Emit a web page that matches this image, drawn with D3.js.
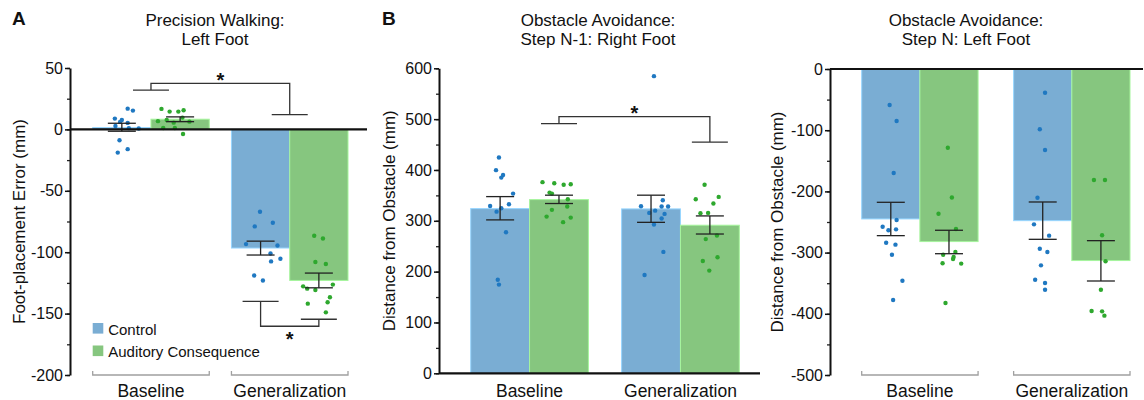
<!DOCTYPE html>
<html>
<head>
<meta charset="utf-8">
<script src="https://cdn.jsdelivr.net/npm/d3@7"></script>
<style>
  body { margin: 0; background: #fff; }
  text { font-family: "Liberation Sans", Arial, sans-serif; fill: #111; }
</style>
</head>
<body>
<svg id="chart" width="1144" height="400"></svg>
<script>
var groups = ["Baseline", "Generalization"];
var seriesNames = ["Control", "Auditory Consequence"];
var barColors = ["#7aadd3", "#86c67f"];
var dotColors = ["#1f78c1", "#2ea82e"];

// ---- Panel A: precision walking, left foot (mm) ----
var aCtrlMean = [1.5, -96.6];
var aAudMean = [8.3, -123];
var aCtrlErr = [[-1.5, 5], [-102.3, -91]];
var aAudErr = [[6.3, 10.2], [-129, -117]];
var aCtrlBase = [16.9, 15.3, 8.8, 7.7, 6.1, 5.3, 2.8, 1, 0.7, -8.8, -16.1, -18.9];
var aCtrlBaseJit = [0.10, 0.19, -0.12, 0, -0.03, 0.10, -0.11, 0.12, 0.29, -0.04, 0.10, -0.07];
var aAudBase = [16.7, 14.5, 14.5, 15.6, 6.7, 7.7, 5.5, 9.6, 6.3, 1.2, 1.2, -3.7];
var aAudBaseJit = [-0.32, -0.18, -0.03, 0.06, -0.38, -0.23, -0.11, 0.04, 0.16, -0.29, -0.09, 0.05];
var aCtrlGen = [-67, -79, -76, -93.4, -94.5, -101, -105.3, -107.5, -119, -123];
var aCtrlGenJit = [-0.01, -0.10, 0.21, -0.25, 0.29, 0.17, 0.34, 0.18, -0.11, 0.04];
var aAudGen = [-86.6, -88.8, -108, -109.6, -127.8, -129.7, -130.8, -126.4, -136.7, -141.9, -140.8, -149];
var aAudGenJit = [-0.08, 0.07, -0.06, 0.12, -0.27, -0.20, -0.06, 0.24, 0.19, -0.19, 0.15, 0.12];

// ---- Panel B: obstacle avoidance, step N-1 right foot (mm) ----
var bCtrlMean = [324, 323.4];
var bAudMean = [341.7, 291.3];
var bCtrlErr = [[301.8, 347.6], [297, 350.4]];
var bAudErr = [[334, 350.4], [274, 309.6]];
var bCtrlBase = [424.4, 399.6, 390, 385, 353.5, 329, 332.7, 324.8, 318, 277.5, 184, 174.5];
var bCtrlBaseJit = [-0.02, -0.07, 0.05, 0.02, 0.22, -0.17, 0.15, 0.02, -0.06, 0.10, -0.04, -0.02];
var bAudBase = [376, 374, 371, 372, 355.5, 353.5, 342.5, 328, 321.5, 308.3, 306.3, 297.3];
var bAudBaseJit = [-0.28, -0.08, 0.08, 0.20, -0.16, -0.12, 0.15, 0.14, -0.12, -0.21, 0.20, 0.07];
var bCtrlGen = [584.6, 328.7, 315.5, 320, 328, 328, 340.5, 313.6, 304.5, 292.5, 238.8, 193.5];
var bCtrlGenJit = [0.05, -0.17, -0.03, 0.07, 0.18, 0.29, 0.20, 0.23, 0.18, 0.05, 0.21, -0.11];
var bAudGen = [371, 347, 342.5, 334, 315, 315.5, 264, 271, 221, 228.3, 202];
var bAudGenJit = [-0.09, 0.15, -0.24, 0.06, -0.16, -0.03, -0.07, 0.12, -0.12, 0.13, -0.01];

// ---- Panel C: obstacle avoidance, step N left foot (mm) ----
var cCtrlMean = [-245, -247.8];
var cAudMean = [-282, -313];
var cCtrlErr = [[-272.3, -217.8], [-278.3, -217.3]];
var cAudErr = [[-301.8, -263.5], [-346.4, -280.5]];
var cCtrlBase = [-58.8, -85, -170, -246.7, -257.7, -263.6, -262, -284, -287, -303.4, -345.9, -377.5];
var cCtrlBaseJit = [-0.02, 0.10, 0.05, 0.10, -0.14, -0.04, 0.09, -0.08, 0.08, 0.02, 0.20, 0.04];
var cAudBase = [-128.6, -210, -236.4, -261.4, -303.4, -299, -307, -310.5, -317.5, -318, -382.4];
var cAudBaseJit = [-0.02, 0.05, -0.18, 0.12, -0.10, 0.11, 0.08, 0.07, -0.11, 0.21, -0.06];
var cCtrlGen = [-38.7, -98.5, -132.4, -210.3, -253.8, -272.3, -293.6, -299, -320.8, -344.3, -349.7, -360.6];
var cCtrlGenJit = [0.04, -0.05, 0.04, -0.09, -0.15, 0.11, -0.05, 0.08, -0.03, -0.13, 0.04, 0.04];
var cAudGen = [-181.4, -181.4, -271.7, -314.2, -360.6, -395.4, -396, -403];
var cAudGenJit = [-0.12, 0.07, 0.02, 0.08, 0, -0.16, 0.02, 0.06];

// significance brackets: [left arm, top/bottom, right arm] in data units
var aSigGroups = [32, 37.5, 12];
var aSigGen = [-140, -160.3, -154.6];
var bSigAud = [491.3, 505, 454.7];

var svg = d3.select("#chart");

function drawPanel(p) {
  var g = svg.append("g");
  var y = d3.scaleLinear().domain(p.domain).range(p.yRange);
  var x = d3.scaleBand().domain(groups).range(p.barsX).paddingInner(p.pad).paddingOuter(0);
  var xs = d3.scaleBand().domain([0, 1]).range([0, x.bandwidth()]);
  var bw = xs.bandwidth();

  var rows = [];
  groups.forEach(function(grp, gi) {
    [0, 1].forEach(function(si) {
      rows.push({
        grp: grp, s: si,
        mean: p.means[si][gi],
        err: p.errs[si][gi],
        dots: p.dots[si][gi],
        jit: p.jits[si][gi],
        x0: x(grp) + xs(si)
      });
    });
  });

  // bars
  g.selectAll("rect.bar").data(rows).enter().append("rect")
    .attr("class", "bar")
    .attr("x", d => d.x0)
    .attr("width", bw)
    .attr("y", d => Math.min(y(d.mean), y(0)))
    .attr("height", d => Math.abs(y(d.mean) - y(0)))
    .attr("fill", d => barColors[d.s])
    .attr("stroke", d => d3.color(barColors[d.s]).brighter(0.6))
    .attr("stroke-width", 1);

  // individual dots
  rows.forEach(function(r) {
    g.selectAll(null).data(r.dots).enter().append("circle")
      .attr("cx", (v, i) => r.x0 + bw / 2 + r.jit[i] * bw)
      .attr("cy", v => y(v))
      .attr("r", 2.2)
      .attr("fill", dotColors[r.s]);
  });

  // error bars
  var eb = g.selectAll("g.err").data(rows).enter().append("g")
    .attr("stroke", "#222").attr("stroke-width", 1.3).attr("fill", "none");
  eb.append("line")
    .attr("x1", d => d.x0 + bw / 2).attr("x2", d => d.x0 + bw / 2)
    .attr("y1", d => y(d.err[0])).attr("y2", d => y(d.err[1]));
  eb.append("line")
    .attr("x1", d => d.x0 + bw / 2 - 14).attr("x2", d => d.x0 + bw / 2 + 14)
    .attr("y1", d => y(d.err[0])).attr("y2", d => y(d.err[0]));
  eb.append("line")
    .attr("x1", d => d.x0 + bw / 2 - 14).attr("x2", d => d.x0 + bw / 2 + 14)
    .attr("y1", d => y(d.err[1])).attr("y2", d => y(d.err[1]));

  // y axis: minor then major ticks
  var minorAxis = d3.axisLeft(y)
    .tickValues(d3.range(p.domain[0], p.domain[1] + 1, p.minor))
    .tickSize(3).tickSizeOuter(0).tickFormat("");
  g.append("g").attr("transform", `translate(${p.axisX},0)`).call(minorAxis)
    .call(s => s.select(".domain").remove())
    .selectAll("line").attr("stroke", "#222").attr("stroke-width", 1.3);

  var majorAxis = d3.axisLeft(y)
    .tickValues(d3.range(p.domain[0], p.domain[1] + 1, p.major))
    .tickSize(5).tickSizeOuter(0).tickPadding(2)
    .tickFormat(d => String(d));
  var ax = g.append("g").attr("transform", `translate(${p.axisX},0)`).call(majorAxis);
  ax.select(".domain").attr("stroke", "#111").attr("stroke-width", 2);
  ax.selectAll("line").attr("stroke", "#111").attr("stroke-width", 1.5);
  ax.selectAll("text").style("font-size", "16px").attr("fill", "#111")
    .style("font-family", '"Liberation Sans", Arial, sans-serif');

  // zero line
  g.append("line")
    .attr("x1", p.axisX).attr("x2", p.plotRight)
    .attr("y1", y(0)).attr("y2", y(0))
    .attr("stroke", "#111").attr("stroke-width", 2.2);

  // category brackets and labels
  groups.forEach(function(grp) {
    if (p.catBracket) {
      var by = p.catBracket;
      g.append("path")
        .attr("d", `M${x(grp)},${by - 4}V${by}H${x(grp) + x.bandwidth()}V${by - 4}`)
        .attr("fill", "none").attr("stroke", "#a0a0a0").attr("stroke-width", 1.3);
    }
    g.append("text")
      .attr("x", x(grp) + x.bandwidth() / 2)
      .attr("y", 397)
      .attr("text-anchor", "middle")
      .style("font-size", "17.5px")
      .text(grp);
  });

  // y label
  g.append("text")
    .attr("transform", `translate(${p.labelX},${(p.yRange[0] + p.yRange[1]) / 2}) rotate(-90)`)
    .attr("text-anchor", "middle")
    .attr("dy", "0.35em")
    .style("font-size", "17px")
    .text(p.yLabel);

  // title and letter
  g.append("text").attr("x", p.titleX).attr("y", 26).attr("text-anchor", "middle")
    .style("font-size", "17px").text(p.title[0]);
  g.append("text").attr("x", p.titleX).attr("y", 45).attr("text-anchor", "middle")
    .style("font-size", "17px").text(p.title[1]);
  if (p.letter) {
    g.append("text").attr("x", p.letterX).attr("y", 25)
      .style("font-size", "19px").style("font-weight", "bold").text(p.letter);
  }

  // significance brackets
  (p.sigs || []).forEach(function(s) {
    var lx = s.left(x, xs, bw), rx = s.right(x, xs, bw);
    var a = y(s.v[0]), m = y(s.v[1]), b = y(s.v[2]);
    g.append("path")
      .attr("d", `M${lx - 18},${a}H${lx + 18}M${lx},${a}V${m}H${rx}V${b}M${rx - 18},${b}H${rx + 18}`)
      .attr("fill", "none").attr("stroke", "#333").attr("stroke-width", 1.3);
    var sy = s.v[1] > s.v[0] ? m - 8 : m + 8;
    g.append("text")
      .attr("x", (lx + rx) / 2).attr("y", sy + 11.5)
      .attr("text-anchor", "middle")
      .style("font-size", "20px").style("font-weight", "bold")
      .text("*");
  });

  return { x: x, xs: xs, y: y };
}

function groupCenter(gi) {
  return function(x) { return x(groups[gi]) + x.bandwidth() / 2; };
}
function barCenter(gi, si) {
  return function(x, xs, bw) { return x(groups[gi]) + xs(si) + bw / 2; };
}

drawPanel({
  letter: "A", letterX: 12,
  title: ["Precision Walking:", "Left Foot"], titleX: 215,
  yLabel: "Foot-placement Error (mm)", labelX: 19,
  axisX: 70, plotRight: 367,
  domain: [-200, 50], yRange: [375, 68], major: 50, minor: 25,
  barsX: [92.7, 348], pad: 0.16, catBracket: 375,
  means: [aCtrlMean, aAudMean], errs: [aCtrlErr, aAudErr],
  dots: [[aCtrlBase, aCtrlGen], [aAudBase, aAudGen]],
  jits: [[aCtrlBaseJit, aCtrlGenJit], [aAudBaseJit, aAudGenJit]],
  sigs: [
    { v: aSigGroups, left: groupCenter(0), right: groupCenter(1) },
    { v: aSigGen, left: barCenter(1, 0), right: barCenter(1, 1) }
  ]
});

drawPanel({
  letter: "B", letterX: 382,
  title: ["Obstacle Avoidance:", "Step N-1: Right Foot"], titleX: 598,
  yLabel: "Distance from Obstacle (mm)", labelX: 389,
  axisX: 439, plotRight: 760,
  domain: [0, 600], yRange: [373.3, 68.3], major: 100, minor: 50,
  barsX: [470.7, 739.3], pad: 0.22, catBracket: null,
  means: [bCtrlMean, bAudMean], errs: [bCtrlErr, bAudErr],
  dots: [[bCtrlBase, bCtrlGen], [bAudBase, bAudGen]],
  jits: [[bCtrlBaseJit, bCtrlGenJit], [bAudBaseJit, bAudGenJit]],
  sigs: [
    { v: bSigAud, left: barCenter(0, 1), right: barCenter(1, 1) }
  ]
});

drawPanel({
  letter: null,
  title: ["Obstacle Avoidance:", "Step N: Left Foot"], titleX: 966,
  yLabel: "Distance from Obstacle (mm)", labelX: 777,
  axisX: 830, plotRight: 1143,
  domain: [-500, 0], yRange: [375, 69], major: 100, minor: 50,
  barsX: [861.7, 1130], pad: 0.234, catBracket: 375,
  means: [cCtrlMean, cAudMean], errs: [cCtrlErr, cAudErr],
  dots: [[cCtrlBase, cCtrlGen], [cAudBase, cAudGen]],
  jits: [[cCtrlBaseJit, cCtrlGenJit], [cAudBaseJit, cAudGenJit]],
  sigs: []
});

// legend (panel A)
var legend = svg.append("g").attr("transform", "translate(92.7,323)");
legend.selectAll("rect").data(seriesNames).enter().append("rect")
  .attr("x", 0).attr("y", (d, i) => i * 22.5)
  .attr("width", 10.6).attr("height", 10.6)
  .attr("fill", (d, i) => barColors[i]);
legend.selectAll("text").data(seriesNames).enter().append("text")
  .attr("x", 15.5).attr("y", (d, i) => i * 22.5 + 11.5)
  .style("font-size", "15px")
  .text(d => d);
</script>
</body>
</html>
